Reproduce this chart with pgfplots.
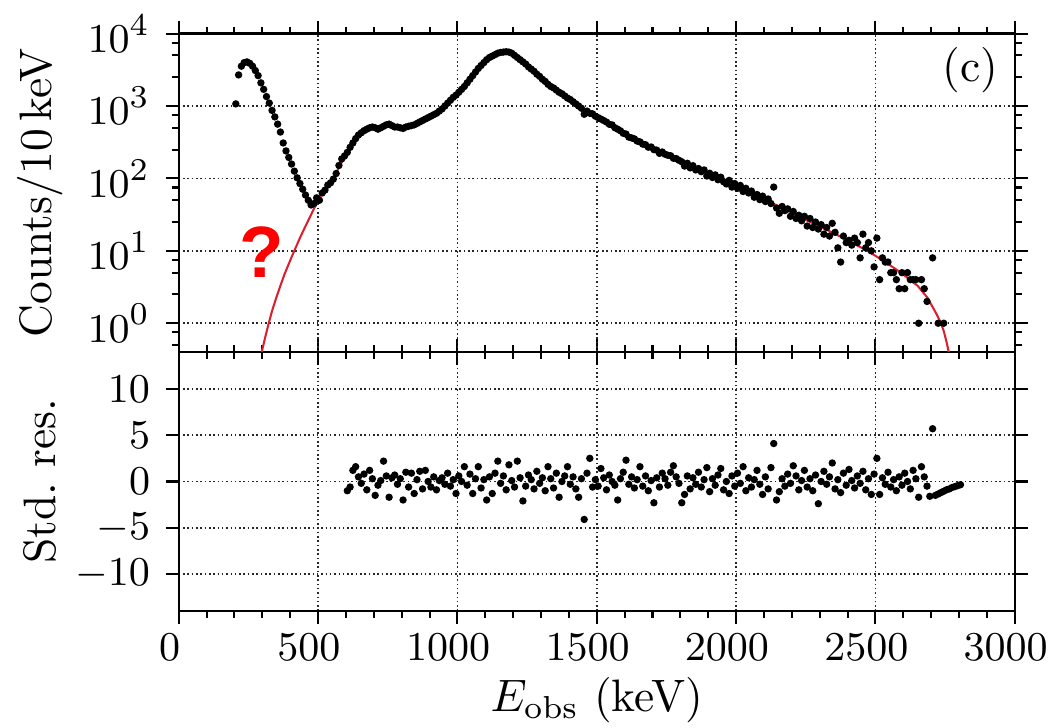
\documentclass[border=0pt]{standalone}
\usepackage{fontspec}
\usepackage{pgfplots}
\pgfplotsset{compat=1.18}
\newfontfamily\arialfont{Liberation Sans}
\definecolor{fitred}{rgb}{0.86,0.12,0.18}
\pgfkeys{/pgf/number format/1000 sep={}}
\pgfplotsset{
  myaxis/.style={
    scale only axis,
    width=183.9pt,
    xmin=0, xmax=3000,
    xtick={0,500,1000,1500,2000,2500,3000},
    minor x tick num=4,
    tick align=outside,
    major tick length=2.8pt,
    minor tick length=1.5pt,
    tick style={black, line width=0.45pt},
    axis line style={line width=0.5pt},
    grid=major,
    major grid style={black!85, line width=0.35pt, dash pattern=on 0.35pt off 0.6pt},
    ylabel style={at={(axis description cs:-0.166,0.5)}, anchor=center},
    tick label style={font=\fontsize{9.3}{10}\selectfont, inner sep=1pt},
    xticklabel style={yshift=-1.1pt, xshift=-2pt},
    yticklabel style={xshift=-2.3pt},
  }
}
\begin{document}
\begin{tikzpicture}
% ---------------- bottom panel: residuals ----------------
\begin{axis}[myaxis,
  at={(0,0)}, anchor=south west,
  height=57pt,
  ymin=-14, ymax=14,
  ytick={-10,-5,0,5,10},
  xlabel={$E_{\mathrm{obs}}$ (keV)},
  xlabel style={at={(axis description cs:0.5,-0.344)}, anchor=center},
  ylabel={Std.\ res.},
]
\addplot[only marks, mark=*, mark size=0.6pt, black] coordinates {
(605,-1.0) (615,-0.6) (625,1.2) (635,1.6) (645,0.5) (655,-0.2) (665,0.8) (675,-0.9) (685,1.2) (695,0.3)
(705,-1.5) (715,-0.4) (725,0.1) (735,2.2) (745,0.6) (755,-1.7) (765,0.4) (775,0.7) (785,-0.3) (795,0.3)
(805,-2.0) (815,1.0) (825,-0.6) (835,0.9) (845,-1.3) (855,0.2) (865,1.1) (875,-0.8) (885,1.2) (895,0.0)
(905,-0.6) (915,0.5) (925,-0.9) (935,0.1) (945,0.4) (955,-0.3) (965,0.9) (975,-0.5) (985,0.2) (995,-1.3)
(1005,0.6) (1015,0.0) (1025,1.6) (1035,-0.4) (1045,0.8) (1055,-1.3) (1065,0.3) (1075,1.6) (1085,-0.7) (1095,0.2)
(1105,-2.0) (1115,0.5) (1125,-1.3) (1135,0.9) (1145,2.2) (1155,-0.2) (1165,0.6) (1175,-0.9) (1185,1.8) (1195,0.1)
(1205,-0.6) (1215,2.2) (1225,0.4) (1235,-2.1) (1245,-0.5) (1255,0.7) (1265,0.2) (1275,-0.8) (1285,1.1) (1295,-0.2)
(1305,0.4) (1315,-1.0) (1325,1.6) (1335,0.3) (1345,-0.7) (1355,0.9) (1365,-1.7) (1375,0.0) (1385,0.6) (1395,1.6)
(1405,-0.3) (1415,0.5) (1425,-0.8) (1435,-1.7) (1445,0.3) (1455,-4.1) (1465,0.9) (1475,2.5) (1485,-0.6) (1495,0.2)
(1505,-0.5) (1515,1.4) (1525,0.4) (1535,-0.9) (1545,0.7) (1555,0.0) (1565,-0.4) (1575,-2.0) (1585,0.3) (1595,1.0)
(1605,2.3) (1615,-0.3) (1625,0.5) (1635,-0.7) (1645,0.2) (1655,1.6) (1665,-0.5) (1675,0.6) (1685,-1.0) (1695,0.1)
(1705,-2.3) (1715,0.4) (1725,-0.6) (1735,0.9) (1745,0.3) (1755,-0.4) (1765,1.0) (1775,1.7) (1785,0.5) (1795,-0.2)
(1805,-2.3) (1815,-1.4) (1825,0.6) (1835,-0.8) (1845,0.4) (1855,-0.3) (1865,1.0) (1875,-0.6) (1885,0.2) (1895,1.5)
(1905,-1.1) (1915,0.3) (1925,-0.4) (1935,0.7) (1945,1.4) (1955,-0.9) (1965,0.0) (1975,-1.3) (1985,0.6) (1995,-0.5)
(2005,0.9) (2015,-0.2) (2025,1.6) (2035,-1.0) (2045,0.4) (2055,-0.6) (2065,0.2) (2075,1.2) (2085,-0.3) (2095,-1.4)
(2105,0.5) (2115,-0.8) (2125,1.5) (2135,4.1) (2145,-2.0) (2155,-1.1) (2165,0.3) (2175,-0.5) (2185,0.8) (2195,-0.2)
(2205,1.7) (2215,0.6) (2225,-0.9) (2235,0.1) (2245,1.2) (2255,-0.6) (2265,0.3) (2275,-1.0) (2285,0.7) (2295,-2.4)
(2305,0.0) (2315,1.1) (2325,-0.3) (2335,0.5) (2345,2.0) (2355,-0.8) (2365,0.2) (2375,-1.2) (2385,0.9) (2395,-0.4)
(2405,1.3) (2415,0.1) (2425,-0.7) (2435,0.6) (2445,-0.2) (2455,1.1) (2465,-0.9) (2475,0.3) (2485,-1.4) (2495,0.8)
(2505,2.5) (2515,-1.4) (2525,0.4) (2535,-0.3) (2545,1.0) (2555,-0.6) (2565,0.2) (2575,-1.0) (2585,0.5) (2595,-0.4)
(2605,0.9) (2615,0.0) (2625,-0.8) (2635,1.2) (2645,0.3) (2655,-1.7) (2665,1.6) (2675,0.5) (2685,-0.5) (2695,-1.6)
(2705,5.7) (2715,-1.5) (2725,-1.35) (2735,-1.2) (2745,-1.05) (2755,-0.9) (2765,-0.8) (2775,-0.65) (2785,-0.55) (2795,-0.45)
(2805,-0.35)
};
\end{axis}
% ---------------- top panel: spectrum ----------------
\begin{axis}[myaxis,
  at={(0,57pt)}, anchor=south west,
  height=70pt,
  ymode=log,
  ymin=0.402, ymax=10000,
  ytick={1,10,100,1000,10000},
  minor ytick={0.5,0.75,2.5,5,7.5,25,50,75,250,500,750,2500,5000,7500},
  xticklabels={},
  ylabel={Counts/10\,keV},
]
\addplot[no marks, color=fitred, line width=0.45pt] coordinates {
(290,0.28) (298,0.40) (310,0.63) (323,1.0) (335,1.48) (350,2.24) (365,3.3) (380,4.8) (395,6.6) (410,9.1)
(425,12.3) (440,16.6) (455,21.9) (470,28.8) (485,38) (500,50) (515,63) (530,72) (545,85) (560,105)
(575,145) (590,180) (605,225) (620,275) (635,340) (650,400) (665,450) (680,490) (700,510) (720,500)
(740,530) (760,545) (780,520) (800,505) (820,515) (840,540) (860,585) (880,645) (900,705) (920,775)
(940,880) (960,1050) (980,1260) (1000,1480) (1020,1780) (1040,2200) (1060,2790) (1080,3450) (1100,4170) (1120,4780)
(1140,5250) (1160,5530) (1175,5620) (1190,5480) (1210,4850) (1230,4220) (1250,3630) (1275,3020) (1300,2450) (1333,1900)
(1360,1580) (1393,1320) (1420,1100) (1453,891) (1480,776) (1501,708) (1537,589) (1585,447) (1633,347) (1693,269)
(1729,234) (1776,195) (1824,158) (1872,129) (1932,102) (1992,81) (2052,63) (2112,49) (2172,38) (2232,28.8)
(2292,22.4) (2352,17.4) (2412,13.2) (2471,10) (2531,7.2) (2591,5.0) (2651,3.3) (2687,2.24) (2720,1.32) (2735,1.0)
(2745,0.78) (2755,0.55) (2765,0.37) (2770,0.3)
};
\addplot[only marks, mark=*, mark size=0.6pt, black] coordinates {
(205,1070) (215,2690) (225,3550) (235,3980) (245,4070) (255,3890) (265,3550) (275,3090) (285,2630) (295,2090)
(305,1700) (315,1350) (325,1100) (335,871) (345,708) (355,562) (365,437) (375,309) (385,240) (395,195)
(405,158) (415,126) (425,102) (435,85) (445,71) (455,59) (465,50) (475,43) (485,45) (495,54)
(505,50) (515,63) (525,69) (535,81) (545,87) (555,98) (565,117) (575,151) (585,186) (595,204)
(605,229) (615,269) (625,309) (635,355) (645,398) (655,427) (665,457) (675,479) (685,501) (695,513)
(705,501) (715,479) (725,501) (735,525) (745,550) (755,562) (765,537) (775,513) (785,513) (795,501)
(805,490) (815,513) (825,525) (835,537) (845,550) (855,575) (865,603) (875,631) (885,661) (895,692)
(905,724) (915,759) (925,794) (935,851) (945,912) (955,1000) (965,1096) (975,1202) (985,1318) (995,1413)
(1005,1549) (1015,1698) (1025,1862) (1035,2089) (1045,2344) (1055,2630) (1065,2951) (1075,3311) (1085,3631) (1095,3981)
(1105,4365) (1115,4677) (1125,4898) (1135,5129) (1145,5370) (1155,5495) (1165,5559) (1175,5623) (1185,5559) (1195,5370)
(1205,5012) (1215,4677) (1225,4365) (1235,4074) (1245,3802) (1255,3467) (1265,3236) (1275,3020) (1285,2754) (1295,2570)
(1305,2344) (1315,2188) (1325,1995) (1335,1862) (1345,1778) (1355,1660) (1365,1549) (1375,1479) (1385,1380) (1395,1288)
(1405,1230) (1415,1148) (1425,1072) (1435,1000) (1445,933) (1455,770) (1465,851) (1475,794) (1485,780) (1495,724)
(1505,692) (1515,661) (1525,631) (1535,600) (1545,560) (1555,548) (1565,501) (1575,479) (1585,455) (1595,420)
(1605,410) (1615,372) (1625,363) (1635,352) (1645,328) (1655,320) (1665,298) (1675,292) (1685,270) (1695,272)
(1705,250) (1715,246) (1725,222) (1735,232) (1745,216) (1755,209) (1765,206) (1775,190) (1785,188) (1795,178)
(1805,170) (1815,148) (1825,162) (1835,140) (1845,150) (1855,131) (1865,137) (1875,124) (1885,131) (1895,108)
(1905,118) (1915,103) (1925,112) (1935,96) (1945,104) (1955,90) (1965,84) (1975,94) (1985,76) (1995,85)
(2005,73) (2015,80) (2025,66) (2035,73) (2045,63) (2055,67) (2065,55) (2075,60) (2085,51) (2095,57)
(2105,48) (2115,52) (2125,45) (2135,76) (2145,39) (2155,33) (2165,41) (2175,36) (2185,38) (2195,30)
(2205,35) (2215,28) (2225,31) (2235,26) (2245,30) (2255,22) (2265,28) (2275,21) (2285,25) (2295,20)
(2305,23) (2315,17) (2325,21) (2335,16) (2345,24) (2355,18) (2365,11) (2375,7) (2385,16) (2395,13)
(2405,14) (2415,12) (2425,15) (2435,13) (2445,8) (2455,17) (2465,11) (2475,13) (2485,10) (2495,6)
(2505,15) (2515,4) (2525,8) (2535,7) (2545,7) (2555,5) (2565,5) (2575,4) (2585,3) (2595,5)
(2605,3) (2615,5) (2625,4) (2635,4) (2645,4) (2655,1) (2665,4) (2675,3) (2685,2) (2705,8)
(2725,1) (2745,1)
};
\node at (rel axis cs:0.947,0.885) {(c)};
\node[text=red] at (rel axis cs:0.0997,0.313) {\fontsize{16}{18}\arialfont\bfseries ?};
\end{axis}
\pgfresetboundingbox
\path[use as bounding box] (-39.3pt,-25.7pt) rectangle (192.3pt,134.4pt);
\end{tikzpicture}
\end{document}
